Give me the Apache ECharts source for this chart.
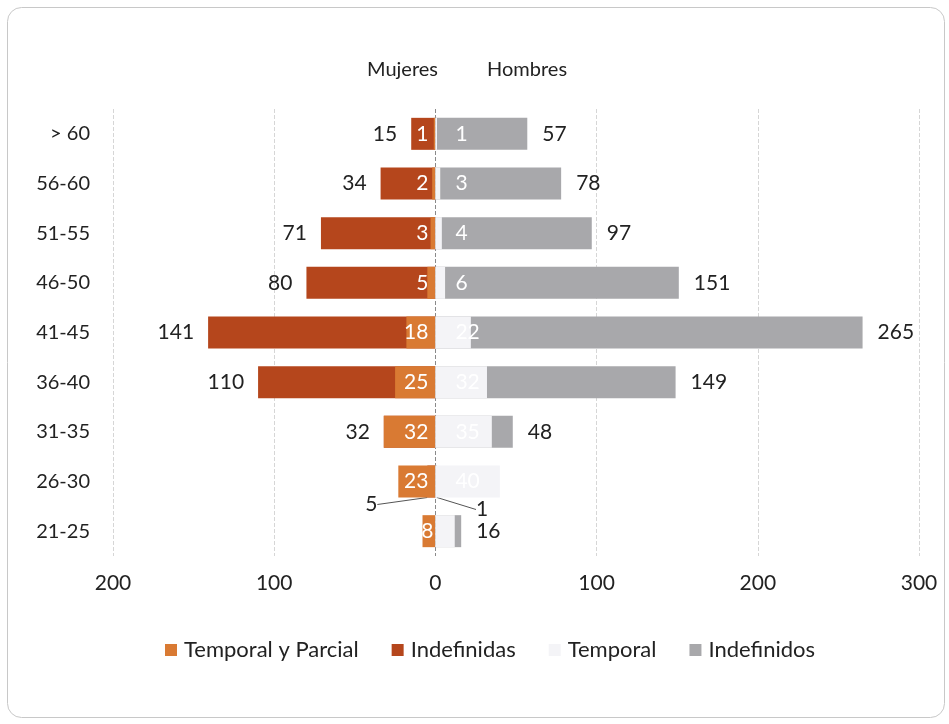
<!DOCTYPE html>
<html>
<head>
<meta charset="utf-8">
<script src="https://cdn.jsdelivr.net/npm/echarts@6/dist/echarts.min.js"></script>
<style>
html,body{margin:0;padding:0;background:#fff;}
#chart{width:949px;height:724px;}
</style>
</head>
<body>
<div id="chart"></div>
<script>
const categories = ['> 60','56-60','51-55','46-50','41-45','36-40','31-35','26-30','21-25'];
const mujeresTemporalParcial = [1,2,3,5,18,25,32,23,8];
const mujeresIndefinidas = [15,34,71,80,141,110,32,5,null];
const hombresTemporal = [1,3,4,6,22,32,35,40,12];
const hombresIndefinidos = [57,78,97,151,265,149,48,1,16];
const xTicks = [-200,-100,0,100,200,300];

const FONT = 'Lato';
const FS = 21;
const absFmt = p => (p.value == null ? '' : String(Math.abs(p.value)));

// data items: values come from the arrays above, only style overrides added
const womenIndefData = mujeresIndefinidas.map((v,i) => {
  const item = {value: v == null ? null : -v};
  if (i === 7) item.labelLine = {show:true};
  return item;
});
const womenTempData = mujeresTemporalParcial.map((v,i) => {
  const item = {value: -v};
  if (i === 8) item.label = {distance:2};
  return item;
});
const menIndefData = hombresIndefinidos.map((v,i) => {
  const item = {value: v};
  if (i === 7) item.labelLine = {show:true};
  return item;
});
const menTempData = hombresTemporal.map((v,i) => {
  const item = {value: v};
  if (i === 8) item.label = {show:false};
  return item;
});

const chart = echarts.init(document.getElementById('chart'), null, {renderer:'canvas'});
chart.setOption({
  backgroundColor:'#fff',
  animation:false,
  textStyle:{fontFamily:FONT},
  graphic:[
    {type:'rect', shape:{x:7.5,y:7.5,width:937,height:710,r:14}, style:{fill:'none',stroke:'#c8c8c8',lineWidth:1}, silent:true, z:-10},
    {type:'text', left:367, top:60, style:{text:'Mujeres', font:'20px Lato', fill:'#222'}},
    {type:'text', left:487, top:60, style:{text:'Hombres', font:'20px Lato', fill:'#222'}}
  ],
  legend:{
    data:['Temporal y Parcial','Indefinidas','Temporal','Indefinidos'],
    left:160, top:634, icon:'rect', itemWidth:12, itemHeight:12, itemGap:33,
    textStyle:{fontFamily:FONT, fontSize:22, color:'#222', padding:[0,0,0,2]}
  },
  grid:{left:113, right:30, top:109, bottom:168},
  xAxis:{
    type:'value', min:xTicks[0], max:xTicks[xTicks.length-1], interval:100,
    axisLine:{show:false}, axisTick:{show:false},
    axisLabel:{formatter:v=>String(Math.abs(v)), fontFamily:FONT, fontSize:FS, color:'#222', margin:17},
    splitLine:{show:true, lineStyle:{type:'dashed', width:1, color:['#d6d6d6','#d6d6d6','#8a8a8a','#d6d6d6','#d6d6d6','#d6d6d6']}}
  },
  yAxis:{
    type:'category', data:categories, inverse:true,
    axisLine:{show:false}, axisTick:{show:false},
    axisLabel:{fontFamily:FONT, fontSize:FS-1, color:'#222', margin:23}
  },
  series:[
    {
      name:'Indefinidas', type:'bar', data:womenIndefData, barWidth:32, barGap:'-100%',
      itemStyle:{color:'#b5461c'},
      label:{show:true, position:'left', distance:14, formatter:absFmt, fontFamily:FONT, fontSize:FS, color:'#222'},
      labelLine:{show:false, lineStyle:{color:'#555', width:1}},
      labelLayout:p => p.dataIndex===7 ? {dx:-36, dy:23} : {}
    },
    {
      name:'Temporal y Parcial', type:'bar', data:womenTempData, barWidth:32, barGap:'-100%',
      itemStyle:{color:'#d97a33'},
      label:{show:true, position:'insideRight', distance:7, formatter:absFmt, fontFamily:FONT, fontSize:FS, color:'#fff'}
    },
    {
      name:'Indefinidos', type:'bar', data:menIndefData, barWidth:32, barGap:'-100%',
      itemStyle:{color:'#a8a8ab'},
      label:{show:true, position:'right', distance:15, fontFamily:FONT, fontSize:FS, color:'#222'},
      labelLine:{show:false, lineStyle:{color:'#555', width:1}},
      labelLayout:p => p.dataIndex===7 ? {dx:24, dy:28} : {}
    },
    {
      name:'Temporal', type:'bar', data:menTempData, barWidth:32, barGap:'-100%',
      itemStyle:{color:'#f4f4f7'},
      label:{show:true, position:'insideLeft', distance:20, fontFamily:FONT, fontSize:FS, color:'#fff'}
    }
  ]
});
</script>
</body>
</html>
